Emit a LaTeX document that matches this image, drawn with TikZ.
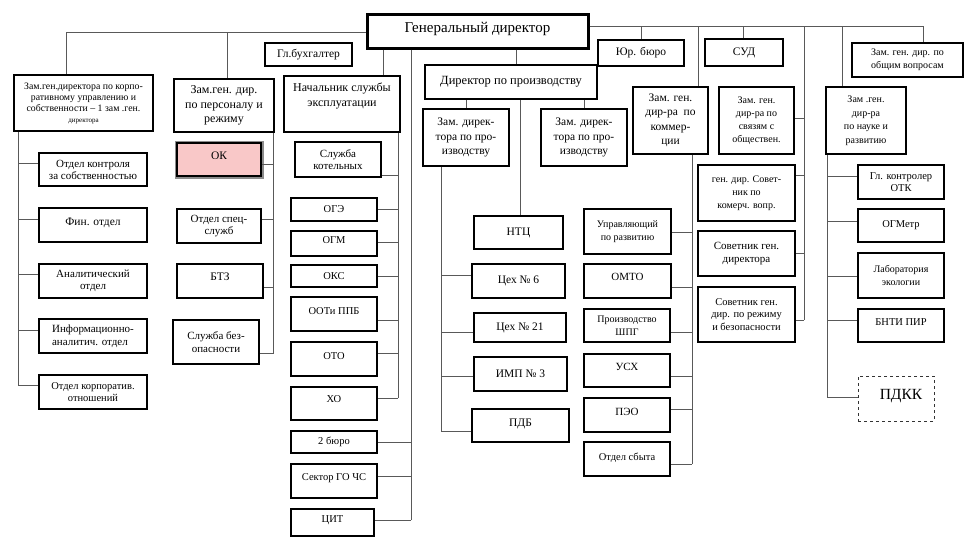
\documentclass[tikz,border=0pt]{standalone}
\usepackage{fontspec}
\setmainfont{Liberation Serif}
\newcommand\fsz[2]{\fontsize{#1}{#2}\selectfont}
\newcommand\orgbox[7][]{\node[box,minimum width={#5pt-#3pt},minimum height={#6pt-#4pt},#1] (#2) at ({(#3+#5)/2},{(#4+#6)/2}) {#7};}
\newcommand\branch[3]{\draw[conn] (#1 |- 0,#3) -- (#2 |- 0,#3);}
\definecolor{okpink}{RGB}{249,200,200}
\tikzset{
  box/.style={draw=black, line width=1.7pt, fill=white, align=center, inner sep=1pt, font=\fsz{10.5}{12.5}},
  okbox/.style={fill=okpink, preaction={draw=black!45, line width=5pt}},
  conn/.style={draw=black!65, line width=0.8pt},
}
\begin{document}
\begin{tikzpicture}[x=1pt,y=-1pt]
\useasboundingbox (0,0) rectangle (971,541);
% ---- top level
\orgbox[line width=3pt,font=\fsz{15}{16},text depth=8pt]{gd}{367}{14}{588}{48}{Генеральный директор}
\orgbox[font=\fsz{11.5}{13}]{gb}{265}{43}{352}{66}{Гл.бухгалтер}
\orgbox[font=\fsz{9.8}{11}]{z1}{14}{75}{153}{131}{Зам.ген.директора по корпо-\\ративному управлению и\\собственности – 1 зам .ген.\\{\fsz{7}{8}директора}}
\orgbox[font=\fsz{12}{14.5}]{z2}{174}{79}{274}{132}{Зам.ген. дир.\\по персоналу и\\режиму}
\orgbox[font=\fsz{12}{14.5},text depth=19pt]{nse}{284}{76}{400}{132}{Начальник службы\\эксплуатации}
\orgbox[font=\fsz{12.5}{14},line width=2.4pt]{dp}{425}{65}{597}{99}{Директор по производству}
\orgbox[font=\fsz{11.5}{14.5}]{zd1}{423}{109}{509}{166}{Зам. дирек-\\тора по про-\\изводству}
\orgbox[font=\fsz{11.5}{14.5}]{zd2}{541}{109}{627}{166}{Зам. дирек-\\тора по про-\\изводству}
\orgbox[font=\fsz{11.5}{13}]{yur}{598}{40}{684}{66}{Юр. бюро}
\orgbox[font=\fsz{11.5}{13}]{sud}{705}{39}{783}{66}{СУД}
\orgbox[font=\fsz{10}{13}]{obsh}{852}{43}{963}{77}{Зам. ген. дир. по\\общим вопросам}
\orgbox[font=\fsz{11.5}{14.5}]{kom}{633}{87}{708}{154}{Зам. ген.\\дир-ра~~по\\коммер-\\ции}
\orgbox[font=\fsz{10}{13}]{svz}{719}{87}{794}{154}{Зам. ген.\\дир-ра по\\связям с\\обществен.}
\orgbox[font=\fsz{10}{13.5}]{nauka}{826}{87}{906}{154}{Зам .ген.\\дир-ра\\по науке и\\развитию}
% ---- left column
\orgbox[font=\fsz{11}{12}]{kontr}{39}{153}{147}{186}{Отдел контроля\\за собственностью}
\orgbox[font=\fsz{11.5}{13},text depth=6pt]{fin}{39}{208}{147}{242}{Фин. отдел}
\orgbox[font=\fsz{11}{12.5}]{anal}{39}{264}{147}{298}{Аналитический\\отдел}
\orgbox[font=\fsz{11}{12.5},align=left]{info}{39}{319}{147}{353}{Информационно-\\аналитич. отдел}
\orgbox[font=\fsz{10.5}{12}]{korp}{39}{375}{147}{409}{Отдел корпоратив.\\отношений}
% ---- column 2
\orgbox[okbox,font=\fsz{11.5}{13},text depth=8pt]{ok}{177}{143}{261}{176}{ОК}
\orgbox[font=\fsz{11}{12.5}]{spec}{177}{209}{261}{243}{Отдел спец-\\служб}
\orgbox[font=\fsz{11.5}{13},text depth=8pt]{btz}{177}{264}{263}{298}{БТЗ}
\orgbox[font=\fsz{11}{12.5}]{sb}{173}{320}{259}{364}{Служба без-\\опасности}
% ---- column 3
\orgbox[font=\fsz{11}{12.5}]{kot}{295}{142}{381}{177}{Служба\\котельных}
\orgbox{oge}{291}{198}{377}{221}{ОГЭ}
\orgbox[text depth=6pt]{ogm}{291}{231}{377}{256}{ОГМ}
\orgbox{oks}{291}{265}{377}{287}{ОКС}
\orgbox[text depth=6pt]{oot}{291}{297}{377}{331}{ООТи ППБ}
\orgbox[text depth=6pt]{oto}{291}{342}{377}{376}{ОТО}
\orgbox[text depth=8pt]{xo}{291}{387}{377}{420}{ХО}
\orgbox{b2}{291}{431}{377}{453}{2 бюро}
\orgbox[text depth=7pt]{gochs}{291}{464}{377}{498}{Сектор ГО ЧС}
\orgbox[text depth=6pt]{cit}{291}{509}{374}{536}{ЦИТ}
% ---- column 4
\orgbox[font=\fsz{11.5}{13}]{ntc}{474}{216}{563}{249}{НТЦ}
\orgbox[font=\fsz{11.5}{13}]{t6}{472}{264}{565}{298}{Цех № 6}
\orgbox[font=\fsz{11.5}{13}]{t21}{474}{313}{566}{342}{Цех № 21}
\orgbox[font=\fsz{11.5}{13}]{imp}{474}{357}{567}{391}{ИМП № 3}
\orgbox[font=\fsz{11.5}{13},text depth=6pt]{pdb}{472}{409}{569}{442}{ПДБ}
% ---- column 5
\orgbox[font=\fsz{10}{13}]{upr}{584}{209}{671}{254}{Управляющий\\по развитию}
\orgbox[font=\fsz{11}{13},text depth=8pt]{omto}{584}{264}{671}{298}{ОМТО}
\orgbox[font=\fsz{10}{13}]{shpg}{584}{309}{670}{342}{Производство\\ШПГ}
\orgbox[font=\fsz{11}{13},text depth=8pt]{usx}{584}{354}{670}{387}{УСХ}
\orgbox[font=\fsz{11}{13},text depth=7pt]{peo}{584}{398}{670}{432}{ПЭО}
\orgbox[font=\fsz{10.5}{13},text depth=5pt]{sbyt}{584}{442}{670}{476}{Отдел сбыта}
% ---- column 6
\orgbox[font=\fsz{10}{13}]{sov1}{698}{165}{795}{221}{ген. дир. Совет-\\ник по\\комерч. вопр.}
\orgbox[font=\fsz{11}{13}]{sov2}{698}{231}{795}{276}{Советник ген.\\директора}
\orgbox[font=\fsz{10.5}{12.5}]{sov3}{698}{287}{795}{342}{Советник ген.\\дир. по режиму\\и безопасности}
% ---- column 7
\orgbox[font=\fsz{10.5}{12.5}]{otk}{858}{165}{944}{199}{Гл. контролер\\ОТК}
\orgbox[font=\fsz{10.5}{12.5}]{ogmetr}{858}{209}{944}{242}{ОГМетр}
\orgbox[font=\fsz{10}{13}]{lab}{858}{253}{944}{298}{Лаборатория\\экологии}
\orgbox[font=\fsz{10.5}{12.5},text depth=7pt]{bnti}{858}{309}{944}{342}{БНТИ ПИР}
\orgbox[font=\fsz{15.5}{17},line width=1pt,draw=black!80,dashed,text depth=9pt]{pdkk}{858}{376}{934}{421}{\hspace*{10pt}ПДКК}
% ---- connectors: top buses
\coordinate (busL) at (0,32);
\coordinate (busR) at (0,26);
\draw[conn] (gd.west |- busL) -| (z1.north -| 66,0);
\draw[conn] (z2.north -| 227,0) -- (busL -| 227,0);
\draw[conn] (gd.east |- busR) -| (obsh.north -| 923,0);
\draw[conn] (yur.north -| 641,0) -- (busR -| 641,0);
\draw[conn] (kom.north -| 698,0) -- (busR -| 698,0);
\draw[conn] (sud.north -| 743,0) -- (busR -| 743,0);
\draw[conn] (nauka.north -| 842,0) -- (busR -| 842,0);
% general director downwards
\draw[conn] (gd.south -| 383,0) -- (nse.north -| 383,0);
\draw[conn] (gd.south -| 516,0) -- (dp.north -| 516,0);
\draw[conn] (dp.south -| 466,0) -- (zd1.north -| 466,0);
\draw[conn] (dp.south -| 584,0) -- (zd2.north -| 584,0);
\draw[conn] (dp.south -| 520,0) -- (ntc.north -| 520,0);
% left column
\coordinate (tA) at (18,385);
\draw[conn] (z1.south -| tA) -- (tA);
\branch{tA}{kontr.west}{163}
\branch{tA}{fin.west}{219}
\branch{tA}{anal.west}{274}
\branch{tA}{info.west}{330}
\branch{tA}{korp.west}{385}
% column 2
\coordinate (tB) at (273.5,353);
\draw[conn] (z2.south -| tB) -- (tB);
\branch{tB}{ok.east}{164}
\branch{tB}{spec.east}{219}
\branch{tB}{btz.east}{287}
\branch{tB}{sb.east}{353}
% column 3
\coordinate (tC) at (398,398);
\draw[conn] (nse.south -| tC) -- (tC);
\branch{tC}{kot.east}{175}
\branch{tC}{oge.east}{209}
\branch{tC}{ogm.east}{242}
\branch{tC}{oks.east}{276}
\branch{tC}{oot.east}{320}
\branch{tC}{oto.east}{353}
\branch{tC}{xo.east}{398}
\coordinate (tC2) at (411,520);
\draw[conn] (gd.south -| tC2) -- (tC2);
\branch{tC2}{b2.east}{442}
\branch{tC2}{gochs.east}{476}
\branch{tC2}{cit.east}{520}
% column 4
\coordinate (tD) at (441,431);
\draw[conn] (zd1.south -| tD) -- (tD);
\branch{tD}{t6.west}{275}
\branch{tD}{t21.west}{332}
\branch{tD}{imp.west}{376}
\branch{tD}{pdb.west}{431}
% column 5
\coordinate (tE) at (692,464);
\draw[conn] (kom.south -| tE) -- (tE);
\branch{tE}{upr.east}{232}
\branch{tE}{omto.east}{287}
\branch{tE}{shpg.east}{332}
\branch{tE}{usx.east}{376}
\branch{tE}{peo.east}{409}
\branch{tE}{sbyt.east}{464}
% column 6
\coordinate (tF) at (804,320);
\draw[conn] (busR -| tF) -- (tF);
\branch{tF}{svz.east}{118}
\branch{tF}{sov1.east}{175}
\branch{tF}{sov2.east}{253}
\branch{tF}{sov3.east}{320}
% column 7
\coordinate (tG) at (827,397);
\draw[conn] (nauka.south -| tG) -- (tG);
\branch{tG}{otk.west}{176}
\branch{tG}{ogmetr.west}{221}
\branch{tG}{lab.west}{276}
\branch{tG}{bnti.west}{320}
\branch{tG}{pdkk.west}{397}
\end{tikzpicture}
\end{document}
